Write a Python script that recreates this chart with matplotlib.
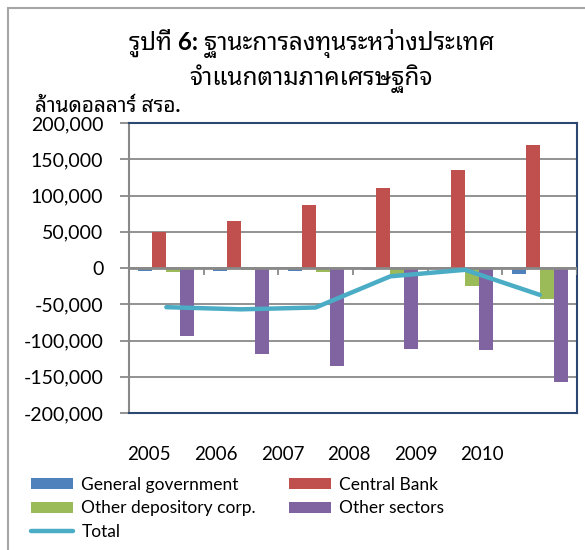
import numpy as np
import matplotlib
matplotlib.use('Agg')
import matplotlib.pyplot as plt
from matplotlib import font_manager, ft2font
from matplotlib.patches import Rectangle
from matplotlib.ticker import FuncFormatter

# values (million USD)
years = ['2005', '2006', '2007', '2008', '2009', '2010']
general_gov = [-4000, -3500, -3500, -3000, -1000, -7800]
central_bank = [50000, 65000, 87000, 110000, 135500, 169000]
other_depository = [-6000, -3000, -5500, -13000, -25500, -42500]
other_sectors = [-94000, -118000, -135500, -112000, -113500, -157500]
total = [-54000, -57000, -54500, -11500, -2500, -37000]

series_names = ['General government', 'Central Bank', 'Other depository corp.', 'Other sectors']
series_colors = ['#4F81BD', '#C0504D', '#9BBB59', '#8064A2']


def find_thai_font():
    names = []
    for f in font_manager.fontManager.ttflist:
        try:
            if 0x0E01 in ft2font.FT2Font(f.fname).get_charmap():
                names.append(f.name)
        except Exception:
            pass
    for pref in ['Noto Sans Thai', 'Loma', 'Garuda', 'Tlwg', 'Noto Sans']:
        for n in names:
            if n.startswith(pref):
                return n
    return names[0] if names else 'DejaVu Sans'


thai = find_thai_font()
plt.rcParams['font.family'] = ['Lato', thai, 'DejaVu Sans']

fig = plt.figure(figsize=(5.85, 5.5), dpi=100)
ax = fig.add_axes([129 / 585, 1 - 413 / 550, 448 / 585, 290 / 550])

x = np.arange(len(years))
w = 0.187
data = [general_gov, central_bank, other_depository, other_sectors]
bars = []
for i, (vals, c) in enumerate(zip(data, series_colors)):
    b = ax.bar(x + (i - 1.5) * w, vals, width=w, color=c, zorder=2, label=series_names[i])
    bars.append(b)
line, = ax.plot(x, total, color='#4BACC6', lw=3.2, solid_capstyle='round', zorder=4, label='Total')

ax.set_xlim(-0.5, 5.5)
ax.set_ylim(-200000, 200000)
ax.set_yticks(np.arange(-200000, 200001, 50000))
ax.yaxis.set_major_formatter(FuncFormatter(lambda v, p: f'{int(v):,}'))
ax.yaxis.grid(True, color='#898989', lw=1.3)
ax.set_axisbelow(True)

# zero axis with category tick marks
ax.axhline(0, color='#898989', lw=2, zorder=3)
ax.vlines(np.arange(0.5, 6, 1), -9000, 0, color='#898989', lw=1.3, zorder=3)

# year labels (offset as in the reference)
ax.set_xticks(np.linspace(-0.23, 4.23, 6), years)
ax.tick_params(axis='x', length=0, pad=24, labelsize=13.5)
ax.tick_params(axis='y', length=6.5, width=1.3, color='#898989', pad=12, labelsize=14)

for s in ['top', 'right', 'bottom']:
    ax.spines[s].set_color('#2C4770')
    ax.spines[s].set_linewidth(1.5)
ax.spines['left'].set_color('#898989')
ax.spines['left'].set_linewidth(1.5)

fig.text(0.532, 1 - 44 / 550, 'รูปที่ 6: ฐานะการลงทุนระหว่างประเทศ', ha='center', va='center',
         fontsize=17.5, fontweight='bold')
fig.text(0.532, 1 - 79 / 550, 'จำแนกตามภาคเศรษฐกิจ', ha='center', va='center',
         fontsize=17.5, fontweight='bold')
fig.text(35 / 585, 1 - 106 / 550, 'ล้านดอลลาร์ สรอ.', ha='left', va='center',
         fontsize=15, fontweight='bold')

# outer chart border (partly cut off)
fig.patches.append(Rectangle((8 / 585, -0.1), 1.2, 1 - 8 / 550 + 0.1, transform=fig.transFigure,
                             fill=False, ec='#A6A6A6', lw=1.5))

handles = [bars[0], bars[2], line, bars[1], bars[3]]
labels = [series_names[0], series_names[2], 'Total', series_names[1], series_names[3]]
fig.legend(handles, labels, ncol=2, loc='upper left', bbox_to_anchor=(31 / 585, 1 - 477 / 550),
           frameon=False, fontsize=12.5, handlelength=2.4, handleheight=0.6, handletextpad=0.5,
           columnspacing=1.9, labelspacing=0.42, borderaxespad=0, borderpad=0)

fig.savefig('out.png', dpi=100)
